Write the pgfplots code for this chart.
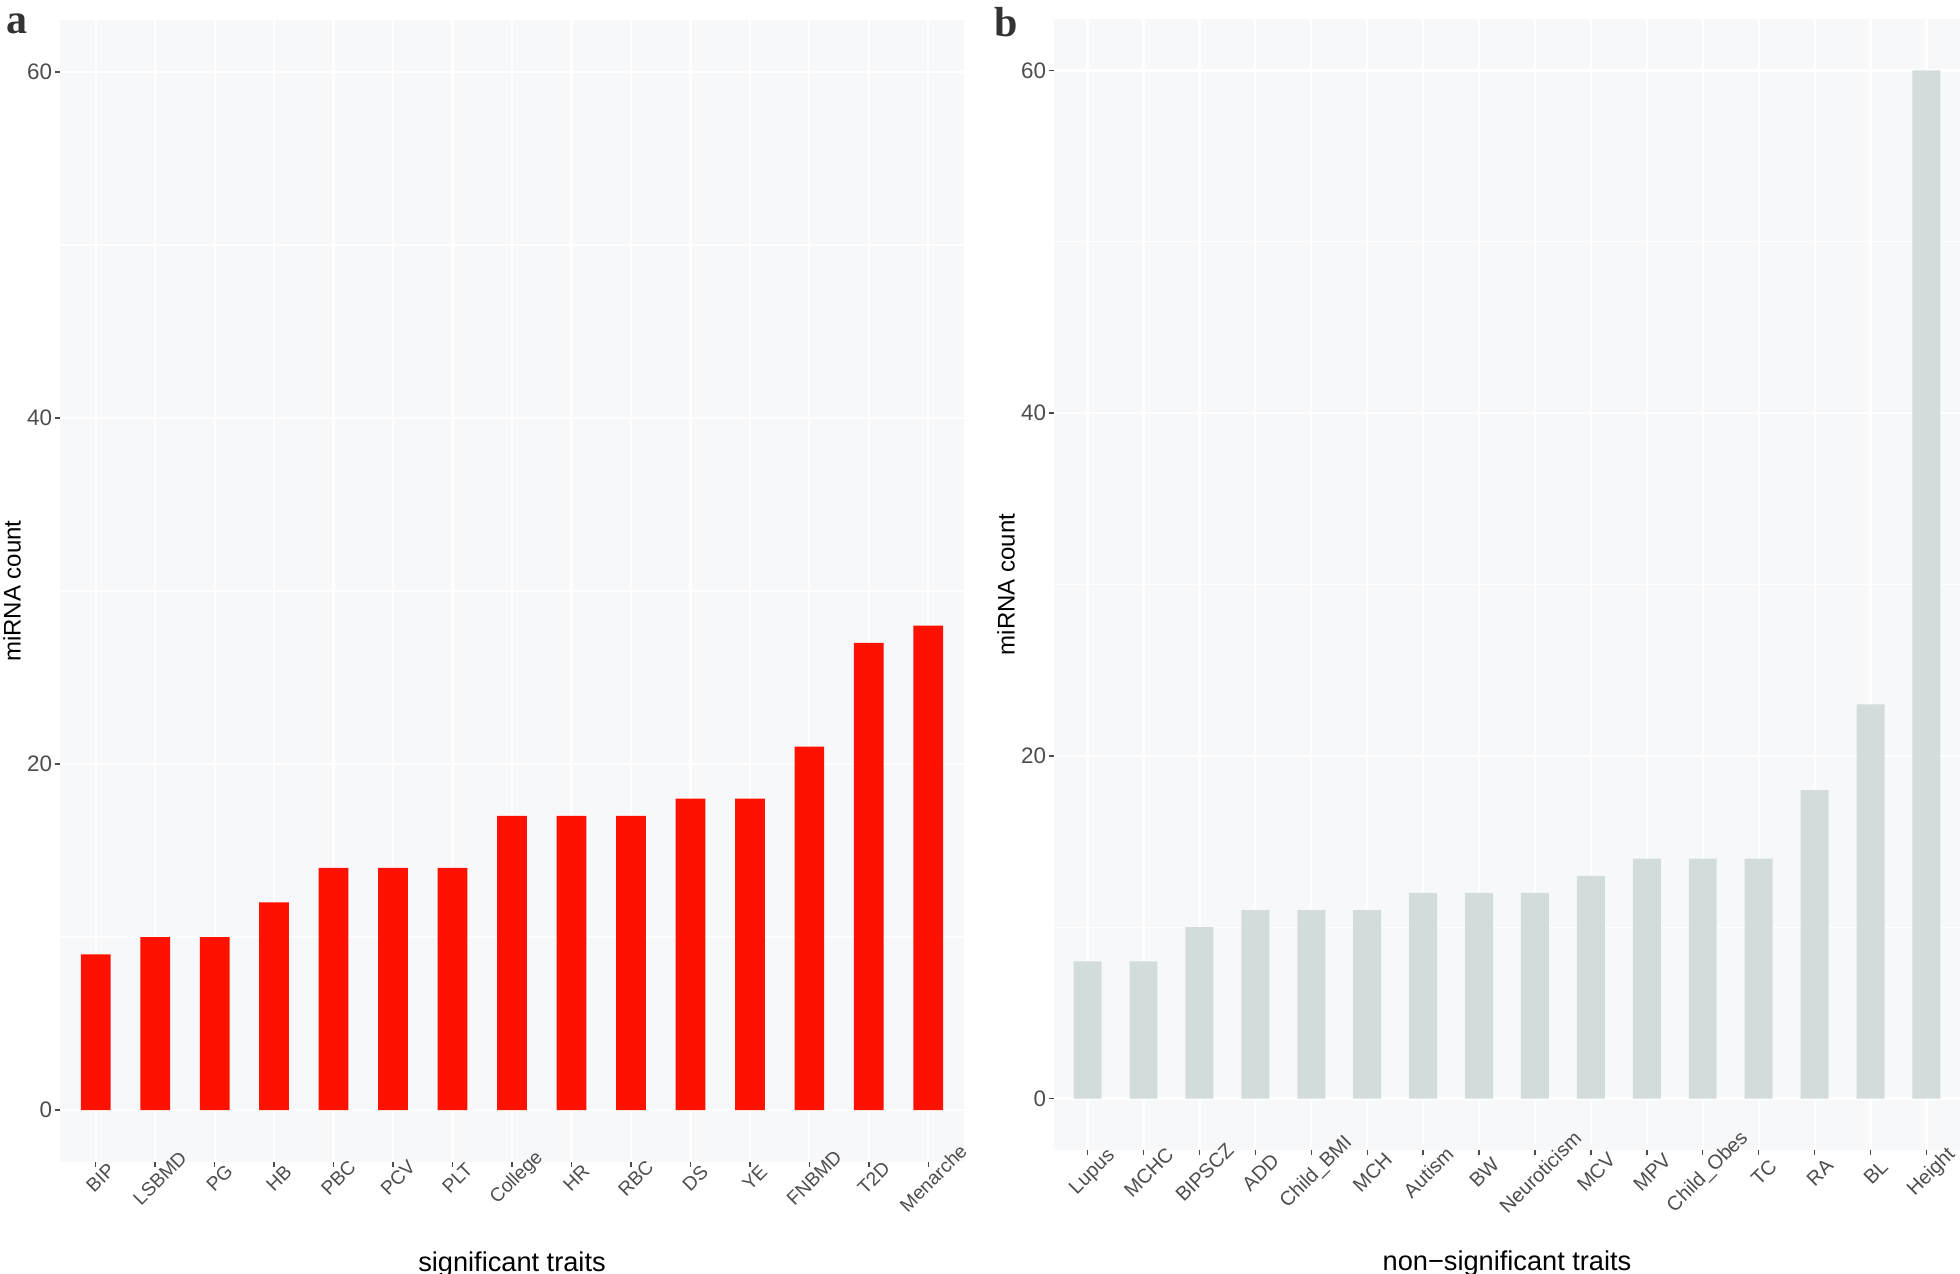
\documentclass[border=0pt]{standalone}
\usepackage{pgfplots}
\pgfplotsset{compat=1.18}
\usepackage{fontspec}
\setmainfont{Liberation Sans}
\newfontfamily\serifbold{Liberation Serif}
\definecolor{panelbg}{HTML}{F7F8FA}
\definecolor{barred}{HTML}{FF1100}
\definecolor{bargray}{HTML}{D3DCDC}
\definecolor{ticktext}{HTML}{4D4D4D}
\pgfplotsset{
  myaxis/.style={
    scale only axis,
    ybar, bar width=0.5, bar shift=0pt,
    ymin=-3, ymax=63,
    ytick={0,20,40,60}, minor ytick={10,30,50},
    xmin=0.4,
    axis background/.style={fill=panelbg},
    axis line style={draw=none},
    grid=both,
    major grid style={white, line width=0.55pt},
    minor grid style={white, line width=0.3pt},
    tick align=outside,
    major tick length=1.3pt,
    minor tick length=0pt,
    tick style={color=black!70, line width=0.35pt},
    xtick pos=left, ytick pos=left,
    /pgf/number format/assume math mode=true,
    yticklabel style={font=\fontsize{5.6}{6.5}\selectfont, color=ticktext, inner sep=0pt, xshift=-0.5pt},
    xticklabel style={font=\fontsize{4.8}{5.5}\selectfont, color=ticktext, anchor=center, inner sep=0pt},
    ylabel style={font=\fontsize{6}{7}\selectfont, at={(axis description cs:-0.053,0.5)}, anchor=center},
    xlabel style={font=\fontsize{6.8}{8}\selectfont},
  }
}
\begin{document}
\begin{tikzpicture}
\useasboundingbox (0,0) rectangle (490pt,318.5pt);
\begin{axis}[myaxis,
  at={(15pt,28pt)}, anchor=south west,
  width=226pt, height=285.5pt,
  xmax=15.6,
  xtick={1,...,15},
  xticklabels={BIP,LSBMD,PG,HB,PBC,PCV,PLT,College,HR,RBC,DS,YE,FNBMD,T2D,Menarche},
  xticklabel style={xshift=1.2pt, yshift=-2.7pt, rotate=45},
  xlabel={significant traits},
  ylabel={miRNA count},
  xlabel style={at={(axis description cs:0.5,-0.0894)}, anchor=center},
]
\addplot[fill=barred, draw=none] coordinates {
(1,9) (2,10) (3,10) (4,12) (5,14) (6,14) (7,14) (8,17) (9,17) (10,17) (11,18) (12,18) (13,21) (14,27) (15,28)};
\end{axis}
\begin{axis}[myaxis,
  at={(263.5pt,31pt)}, anchor=south west,
  width=226.5pt, height=282.75pt,
  xmax=16.6,
  xtick={1,...,16},
  xticklabels={Lupus,MCHC,BIPSCZ,ADD,Child\_BMI,MCH,Autism,BW,Neuroticism,MCV,MPV,Child\_Obes,TC,RA,BL,Height},
  xticklabel style={font=\fontsize{5}{5.7}\selectfont, xshift=1.3pt, yshift=-4.3pt, rotate=45},
  xlabel={non−significant traits},
  ylabel={miRNA count},
  xlabel style={at={(axis description cs:0.5,-0.1004)}, anchor=center},
]
\addplot[fill=bargray, draw=none] coordinates {
(1,8) (2,8) (3,10) (4,11) (5,11) (6,11) (7,12) (8,12) (9,12) (10,13) (11,14) (12,14) (13,14) (14,18) (15,23) (16,60)};
\end{axis}
\node[font=\serifbold\bfseries\fontsize{10.5}{12}\selectfont, anchor=center, color=black!80] at (4.2pt,312.5pt) {a};
\node[font=\serifbold\bfseries\fontsize{10.5}{12}\selectfont, anchor=center, color=black!80] at (251.6pt,313pt) {b};
\end{tikzpicture}
\end{document}
